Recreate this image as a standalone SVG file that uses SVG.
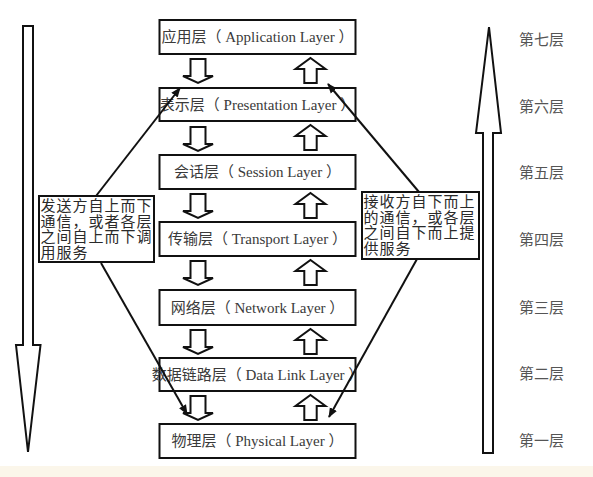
<svg xmlns="http://www.w3.org/2000/svg" width="593" height="477" viewBox="0 0 593 477">
<style>
.box{fill:#fff;stroke:#111;stroke-width:2}
.lt{font-family:"Liberation Serif","Noto Sans CJK SC",serif;font-size:15px;fill:#3a3a3a;text-anchor:middle}
.big{fill:#fff;stroke:#111;stroke-width:2}
.ha{fill:#fff;stroke:#111;stroke-width:2;stroke-linejoin:miter}
.note{font-family:"Noto Sans CJK SC","Liberation Sans",sans-serif;font-size:15px;letter-spacing:1px;fill:#2a2a2a}
.side{font-family:"Liberation Serif","Noto Sans CJK SC",serif;font-size:15px;fill:#555}
.con{stroke:#111;stroke-width:2;fill:none;marker-end:url(#ah)}
</style>
<defs>
<marker id="ah" viewBox="0 0 10 10" refX="9" refY="5" markerWidth="5" markerHeight="5" orient="auto" markerUnits="strokeWidth">
<path d="M0,1 L10,5 L0,9 Z" fill="#111"/>
</marker>
<path id="dn" d="M-7.5,0 H7.5 V17 H15 L0,24 L-15,17 H-7.5 Z"/>
<path id="up" d="M0,0 L15,11 H6.2 V25 H-6.2 V11 H-15 Z"/>
</defs>
<rect x="0" y="0" width="593" height="477" fill="#fff"/>
<rect x="0" y="466" width="593" height="11" fill="#fbf6ea"/>

<g id="big-down"><polygon class="big" points="23,26 33,26 33,345 40.5,345 28,452 16,345 23,345"/></g>
<g id="big-up"><polygon class="big" points="489,27 501,133 493,133 493,453 483,453 483,133 476,133"/></g>

<g id="layer7"><rect class="box" x="159.5" y="20" width="196" height="34"/><text class="lt" x="257.5" y="42">应用层（ Application Layer ）</text></g>
<g id="layer6"><rect class="box" x="159.5" y="88" width="196" height="33"/><text class="lt" x="257.5" y="109.5">表示层（ Presentation Layer ）</text></g>
<g id="layer5"><rect class="box" x="159.5" y="155" width="196" height="34"/><text class="lt" x="257.5" y="177">会话层（ Session Layer ）</text></g>
<g id="layer4"><rect class="box" x="159.5" y="222" width="196" height="34"/><text class="lt" x="257.5" y="244">传输层（ Transport Layer ）</text></g>
<g id="layer3"><rect class="box" x="159.5" y="290" width="196" height="35"/><text class="lt" x="257.5" y="312.5">网络层（ Network Layer ）</text></g>
<g id="layer2"><rect class="box" x="159.5" y="358" width="196" height="33"/><text class="lt" x="257.5" y="379.5">数据链路层（ Data Link Layer ）</text></g>
<g id="layer1"><rect class="box" x="159.5" y="424" width="196" height="34"/><text class="lt" x="257.5" y="446">物理层（ Physical Layer ）</text></g>

<g id="flow-arrows">
<use href="#dn" class="ha" x="198" y="59"/>
<use href="#dn" class="ha" x="198" y="127"/>
<use href="#dn" class="ha" x="198" y="194"/>
<use href="#dn" class="ha" x="198" y="261"/>
<use href="#dn" class="ha" x="198" y="330"/>
<use href="#dn" class="ha" x="198" y="396"/>
<use href="#up" class="ha" x="310.5" y="58"/>
<use href="#up" class="ha" x="310.5" y="125"/>
<use href="#up" class="ha" x="310.5" y="193"/>
<use href="#up" class="ha" x="310.5" y="260"/>
<use href="#up" class="ha" x="310.5" y="329"/>
<use href="#up" class="ha" x="310.5" y="395"/>
</g>

<g id="note-send"><rect class="box" x="39" y="196" width="115" height="66"/>
<text class="note" x="40.5" y="211"><tspan x="40.5" y="211">发送方自上而下</tspan><tspan x="40.5" y="226.5">通信，或者各层</tspan><tspan x="40.5" y="242">之间自上而下调</tspan><tspan x="40.5" y="257.5">用服务</tspan></text></g>
<g id="note-recv"><rect class="box" x="362" y="192" width="117" height="67"/>
<text class="note" x="363.5" y="207"><tspan x="363.5" y="207">接收方自下而上</tspan><tspan x="363.5" y="222.5">的通信，或各层</tspan><tspan x="363.5" y="238">之间自下而上提</tspan><tspan x="363.5" y="253.5">供服务</tspan></text></g>

<g id="connectors">
<line class="con" x1="96" y1="196" x2="180" y2="88"/>
<line class="con" x1="101" y1="263" x2="187" y2="414"/>
<line class="con" x1="419" y1="192" x2="328" y2="84"/>
<line class="con" x1="417" y1="259" x2="329" y2="417"/>
</g>

<g id="levels">
<text class="side" x="519" y="45">第七层</text>
<text class="side" x="519" y="112">第六层</text>
<text class="side" x="519" y="178">第五层</text>
<text class="side" x="519" y="245">第四层</text>
<text class="side" x="519" y="313">第三层</text>
<text class="side" x="519" y="379">第二层</text>
<text class="side" x="519" y="446">第一层</text>
</g>
</svg>
